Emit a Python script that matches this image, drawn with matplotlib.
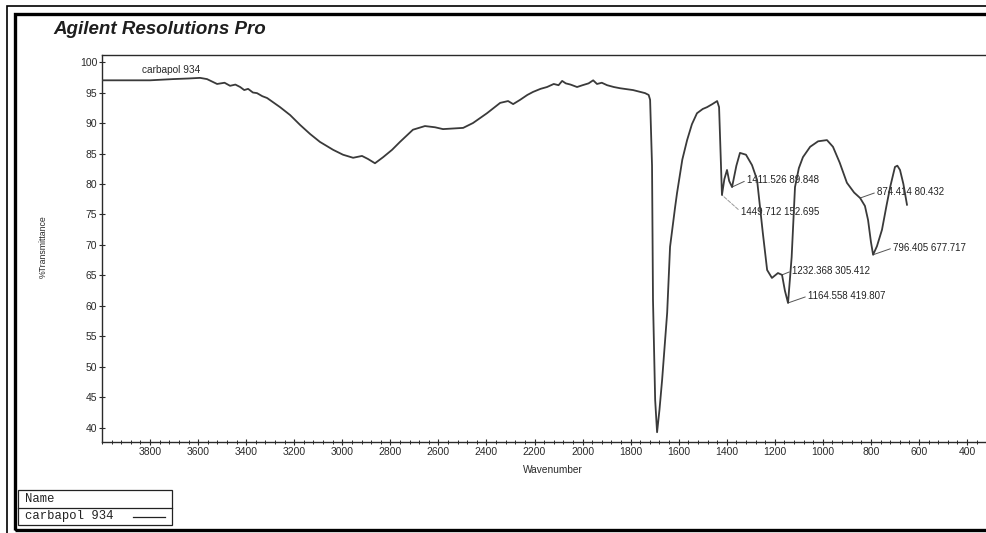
import matplotlib.pyplot as plt
from matplotlib import patches
from matplotlib.lines import Line2D
from matplotlib.ticker import MultipleLocator

# Spectrum (wavenumber, %T)
wavenumber = [4000, 3900, 3800, 3704, 3640, 3592, 3563, 3521, 3490, 3467, 3445, 3425,
              3408, 3392, 3372, 3355, 3333, 3313, 3288, 3259, 3217, 3176, 3134, 3093,
              3038, 2997, 2955, 2918, 2893, 2864, 2830, 2793, 2760, 2706, 2656, 2614,
              2581, 2540, 2497, 2456, 2398, 2343, 2310, 2289, 2260, 2230, 2206, 2175,
              2148, 2120, 2100, 2085, 2070, 2050, 2023, 2000, 1975, 1956, 1940, 1920,
              1898, 1870, 1844, 1790, 1740, 1725, 1719, 1711, 1707, 1698, 1690, 1680,
              1669, 1648, 1636, 1615, 1607, 1585, 1565, 1545, 1524, 1500, 1482, 1460,
              1440, 1432, 1420, 1410, 1399, 1390, 1378, 1360, 1345, 1320, 1295, 1274,
              1250, 1232, 1212, 1187, 1170, 1158, 1145, 1130, 1116, 1100, 1083, 1053,
              1020, 983, 958, 930, 900, 870, 845, 825, 812, 800, 791, 775, 754, 735,
              720, 700, 690, 679, 665, 650]
transmittance = [97.0, 97.0, 97.0, 97.2, 97.3, 97.4, 97.2, 96.4, 96.6, 96.1, 96.3, 95.9,
                 95.4, 95.6, 95.0, 94.9, 94.4, 94.1, 93.4, 92.6, 91.3, 89.7, 88.2, 86.9,
                 85.6, 84.8, 84.3, 84.6, 84.1, 83.4, 84.4, 85.6, 86.9, 88.9, 89.5, 89.3,
                 89.0, 89.1, 89.2, 90.0, 91.6, 93.3, 93.6, 93.1, 93.8, 94.6, 95.1, 95.6,
                 95.9, 96.4, 96.2, 96.9, 96.5, 96.3, 95.9, 96.2, 96.5, 97.0, 96.4, 96.6,
                 96.2, 95.9, 95.7, 95.4, 94.9, 94.6, 93.8, 83.0, 61.0, 44.6, 39.3, 43.0,
                 47.9, 58.9, 69.7, 76.2, 78.5, 84.0, 87.2, 89.8, 91.6, 92.3, 92.6, 93.1,
                 93.6, 92.6, 78.2, 80.8, 82.3, 80.5, 79.5, 83.0, 85.1, 84.8, 83.1, 80.7,
                 72.0, 65.9, 64.6, 65.4, 65.1, 62.5, 60.5, 68.0, 79.5, 82.6, 84.4, 86.1,
                 87.0, 87.2, 86.1, 83.5, 80.2, 78.6, 77.7, 76.4, 74.1, 70.5, 68.4, 69.8,
                 72.5, 76.5, 79.5, 82.8, 83.0, 82.3, 80.0, 76.6]

# Peak annotations: point on curve and the printed label
peak_wn = [1378, 1420, 1170, 1145, 845, 791]
peak_t = [79.5, 78.2, 65.1, 60.5, 77.7, 68.4]
peak_labels = ["1411.526 89.848", "1449.712 152.695", "1232.368 305.412",
               "1164.558 419.807", "874.414 80.432", "796.405 677.717"]

W, H = 987, 533


def fx(px):
    return px / W


def fy(py):
    return 1 - py / H


plt.rcParams['font.family'] = ['Liberation Sans', 'DejaVu Sans']

fig = plt.figure(figsize=(W / 100, H / 100), dpi=100)
fig.patch.set_facecolor('white')

# Page frame: thin outer line and a heavy inner line
fig.add_artist(patches.Rectangle((fx(7), fy(545)), fx(1010) - fx(7), fy(6) - fy(545),
                                 transform=fig.transFigure, fill=False, edgecolor='black', linewidth=1.2))
fig.add_artist(patches.Rectangle((fx(15), fy(530)), fx(1010) - fx(15), fy(13.5) - fy(530),
                                 transform=fig.transFigure, fill=False, edgecolor='black', linewidth=2.4))

fig.text(fx(53), fy(29), "Agilent Resolutions Pro", fontsize=13.5, fontweight='bold',
         fontstyle='italic', color='#1e1e1e', ha='left', va='center')

ax = fig.add_axes([fx(102), fy(442), 1 - fx(102), fy(55) - fy(442)])
ax.plot(wavenumber, transmittance, color='#3a3a3a', linewidth=1.3, zorder=3)
ax.set_xlim(4000, 317)
ax.set_ylim(37.7, 101.15)

ax.xaxis.set_major_locator(MultipleLocator(200))
ax.xaxis.set_minor_locator(MultipleLocator(40))
ax.yaxis.set_major_locator(MultipleLocator(5))
ax.tick_params(axis='both', which='major', direction='inout', length=5, width=0.8,
               labelsize=7.5, pad=1, colors='#2a2a2a')
ax.tick_params(axis='x', which='minor', direction='inout', length=2.5, width=0.7, colors='#2a2a2a')
ax.set_xticks([t for t in range(3800, 300, -200)])
ax.set_yticks(range(40, 101, 5))
for s in ['left', 'bottom', 'top']:
    ax.spines[s].set_color('#2a2a2a')
    ax.spines[s].set_linewidth(1.0)
ax.spines['right'].set_visible(False)

ax.text(3833, 98.7, "carbapol 934", fontsize=7.3, color='#2a2a2a', ha='left', va='center')

offsets = [(10.8, 5.0), (13.7, -12.2), (7.2, 2.9), (14.4, 5.0), (12.2, 4.3), (14.4, 5.0)]
for i, (w, t) in enumerate(zip(peak_wn, peak_t)):
    style = '--' if i == 1 else '-'
    lcolor = '#9a9a9a' if i == 1 else '#555555'
    ax.annotate(peak_labels[i], xy=(w, t), xytext=offsets[i], textcoords='offset points',
                fontsize=7, color='#222222', ha='left', va='center', zorder=2,
                arrowprops=dict(arrowstyle='-', color=lcolor, linestyle=style, linewidth=0.7,
                                shrinkA=0, shrinkB=0, relpos=(0, 0.5)))

fig.text(fx(553), fy(470), "Wavenumber", fontsize=7.3, color='#2a2a2a', ha='center', va='center')
fig.text(fx(43), fy(247), "%Transmittance", fontsize=6.3, color='#2a2a2a', rotation=90,
         ha='center', va='center')

# Name box in the lower left corner
fig.add_artist(patches.Rectangle((fx(18), fy(525)), fx(172) - fx(18), fy(490) - fy(525),
                                 transform=fig.transFigure, fill=False, edgecolor='#222222', linewidth=0.9))
fig.add_artist(Line2D([fx(18), fx(172)], [fy(507.5), fy(507.5)], transform=fig.transFigure,
                      color='#222222', linewidth=0.9))
fig.text(fx(25), fy(498.5), "Name", family='Liberation Mono', fontsize=8.8, color='#222222',
         ha='left', va='center')
fig.text(fx(25), fy(516.5), "carbapol 934", family='Liberation Mono', fontsize=8.8, color='#222222',
         ha='left', va='center')
fig.add_artist(Line2D([fx(133), fx(165)], [fy(516.5), fy(516.5)], transform=fig.transFigure,
                      color='#222222', linewidth=0.9))

plt.savefig('out.png', dpi=100)
